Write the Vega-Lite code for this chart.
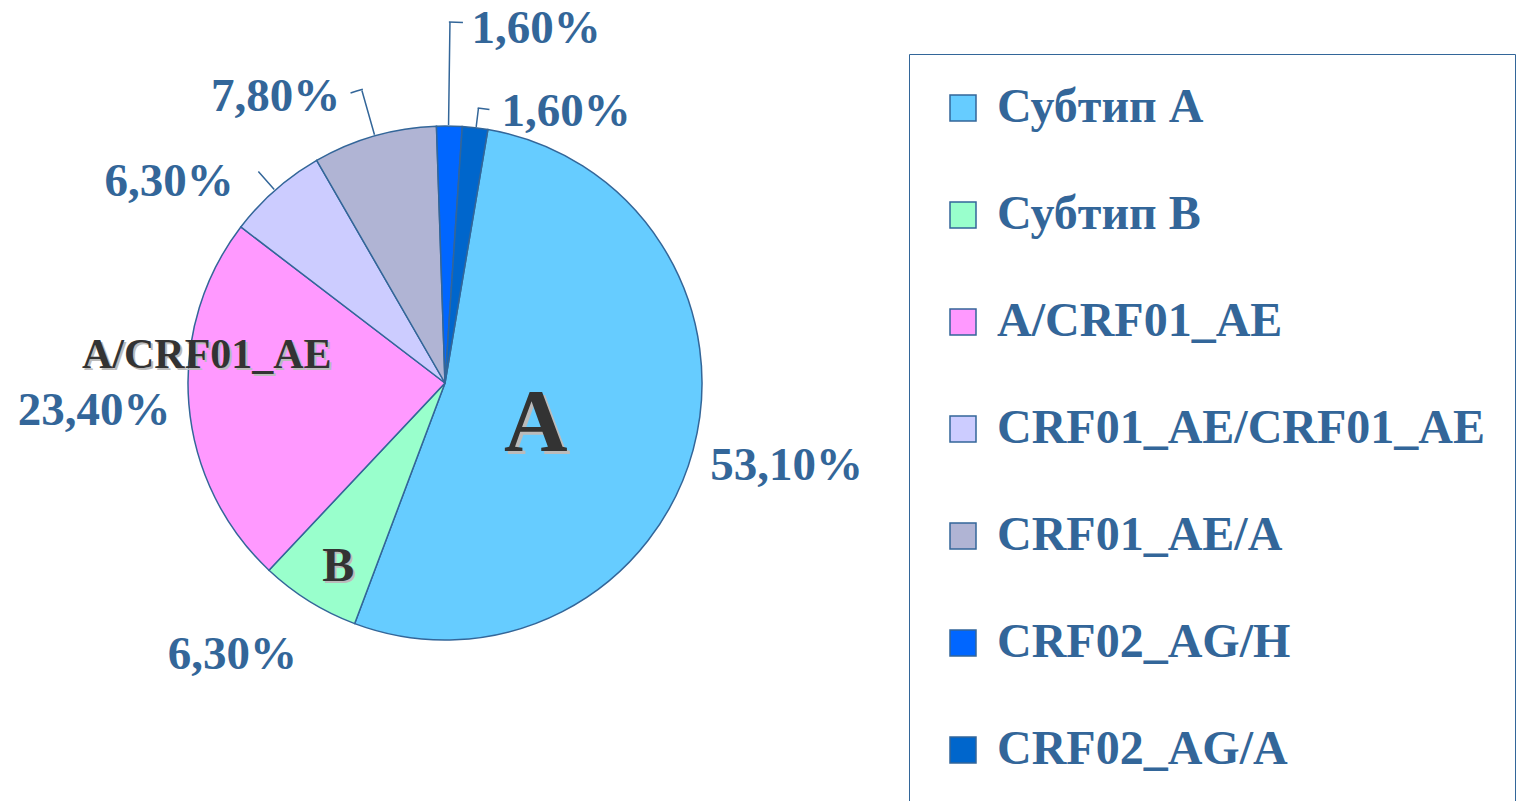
{
  "$schema": "https://vega.github.io/schema/vega-lite/v6.json",
  "width": 890,
  "height": 766,
  "autosize": {"type": "none"},
  "padding": {"left": 0, "top": 0, "right": 627, "bottom": 35},
  "background": "white",
  "config": {
    "view": {"stroke": null},
    "text": {"font": "Liberation Serif", "fontWeight": "bold", "fontSize": 47, "align": "center", "baseline": "middle"},
    "legend": {
      "orient": "none",
      "legendX": 909,
      "legendY": 54,
      "padding": 30,
      "strokeColor": "#336699",
      "symbolType": "square",
      "symbolSize": 676,
      "symbolStrokeColor": "#336699",
      "symbolStrokeWidth": 1.5,
      "symbolOpacity": 1,
      "labelFont": "Liberation Serif",
      "labelFontWeight": "bold",
      "labelFontSize": 48,
      "labelColor": "#336699",
      "labelLimit": 0,
      "labelOffset": 10,
      "rowPadding": 59
    }
  },
  "data": {
    "values": [
      {"idx": 1, "category": "Субтип А", "value": 53.1, "pct": "53,10%", "tag": "A"},
      {"idx": 2, "category": "Субтип В", "value": 6.3, "pct": "6,30%", "tag": "B"},
      {"idx": 3, "category": "A/CRF01_AE", "value": 23.4, "pct": "23,40%", "tag": "A/CRF01_AE"},
      {"idx": 4, "category": "CRF01_AE/CRF01_AE", "value": 6.3, "pct": "6,30%", "tag": ""},
      {"idx": 5, "category": "CRF01_AE/A", "value": 7.8, "pct": "7,80%", "tag": ""},
      {"idx": 6, "category": "CRF02_AG/H", "value": 1.6, "pct": "1,60%", "tag": ""},
      {"idx": 7, "category": "CRF02_AG/A", "value": 1.6, "pct": "1,60%", "tag": ""}
    ]
  },
  "encoding": {
    "theta": {"field": "value", "type": "quantitative", "stack": true, "scale": {"range": [0.1676, 6.4508]}},
    "order": {"field": "idx", "type": "quantitative"},
    "detail": {"field": "category", "type": "nominal"}
  },
  "layer": [
    {
      "mark": {"type": "arc", "radius": 257, "stroke": "#336699", "strokeWidth": 1.5},
      "encoding": {
        "color": {
          "field": "category",
          "type": "nominal",
          "title": null,
          "scale": {
            "domain": ["Субтип А", "Субтип В", "A/CRF01_AE", "CRF01_AE/CRF01_AE", "CRF01_AE/A", "CRF02_AG/H", "CRF02_AG/A"],
            "range": ["#66CCFF", "#99FFCC", "#FF99FF", "#CCCCFF", "#B0B4D4", "#0066FF", "#0066CC"]
          }
        }
      }
    },
    {
      "transform": [
        {"stack": "value", "groupby": [], "sort": [{"field": "idx", "order": "ascending"}], "as": ["v0", "v1"]},
        {"filter": "datum.idx === 6"}
      ],
      "mark": {"type": "arc", "radius": 361, "radius2": 258, "thetaOffset": 0.047, "theta2Offset": 0.047, "fill": null, "stroke": "#336699", "strokeWidth": 1.5},
      "encoding": {"theta": {"field": "v0", "type": "quantitative"}, "theta2": {"field": "v0"}}
    },
    {
      "transform": [
        {"stack": "value", "groupby": [], "sort": [{"field": "idx", "order": "ascending"}], "as": ["v0", "v1"]},
        {"filter": "datum.idx === 6"}
      ],
      "mark": {"type": "arc", "radius": 361, "radius2": 361, "thetaOffset": 0.044, "theta2Offset": 0.083, "fill": null, "stroke": "#336699", "strokeWidth": 1.5},
      "encoding": {"theta": {"field": "v0", "type": "quantitative"}, "theta2": {"field": "v0"}}
    },
    {
      "transform": [
        {"stack": "value", "groupby": [], "sort": [{"field": "idx", "order": "ascending"}], "as": ["v0", "v1"]},
        {"filter": "datum.idx === 7"}
      ],
      "mark": {"type": "arc", "radius": 277, "radius2": 258, "thetaOffset": 0.054, "theta2Offset": 0.054, "fill": null, "stroke": "#336699", "strokeWidth": 1.5},
      "encoding": {"theta": {"field": "v0", "type": "quantitative"}, "theta2": {"field": "v0"}}
    },
    {
      "transform": [
        {"stack": "value", "groupby": [], "sort": [{"field": "idx", "order": "ascending"}], "as": ["v0", "v1"]},
        {"filter": "datum.idx === 7"}
      ],
      "mark": {"type": "arc", "radius": 277, "radius2": 277, "thetaOffset": 0.051, "theta2Offset": 0.094, "fill": null, "stroke": "#336699", "strokeWidth": 1.5},
      "encoding": {"theta": {"field": "v0", "type": "quantitative"}, "theta2": {"field": "v0"}}
    },
    {
      "transform": [
        {"stack": "value", "groupby": [], "sort": [{"field": "idx", "order": "ascending"}], "as": ["v0", "v1"]},
        {"filter": "datum.idx === 5"}
      ],
      "mark": {"type": "arc", "radius": 304, "radius2": 258, "thetaOffset": 0.246, "theta2Offset": 0.246, "fill": null, "stroke": "#336699", "strokeWidth": 1.5},
      "encoding": {"theta": {"field": "v0", "type": "quantitative"}, "theta2": {"field": "v0"}}
    },
    {
      "transform": [
        {"stack": "value", "groupby": [], "sort": [{"field": "idx", "order": "ascending"}], "as": ["v0", "v1"]},
        {"filter": "datum.idx === 5"}
      ],
      "mark": {"type": "arc", "radius": 305, "radius2": 305, "thetaOffset": 0.208, "theta2Offset": 0.250, "fill": null, "stroke": "#336699", "strokeWidth": 1.5},
      "encoding": {"theta": {"field": "v0", "type": "quantitative"}, "theta2": {"field": "v0"}}
    },
    {
      "transform": [
        {"stack": "value", "groupby": [], "sort": [{"field": "idx", "order": "ascending"}], "as": ["v0", "v1"]},
        {"filter": "datum.idx === 4"}
      ],
      "mark": {"type": "arc", "radius": 282, "radius2": 258, "thetaOffset": 0.195, "theta2Offset": 0.195, "fill": null, "stroke": "#336699", "strokeWidth": 1.5},
      "encoding": {"theta": {"field": "v0", "type": "quantitative"}, "theta2": {"field": "v0"}}
    },
    {
      "mark": {"type": "text", "radius": 300, "dx": 52, "dy": 5},
      "encoding": {"text": {"condition": {"test": "datum.idx === 1", "field": "pct", "type": "nominal"}, "value": ""}, "color": {"value": "#336699"}}
    },
    {
      "mark": {"type": "text", "radius": 300, "dx": -54, "dy": 17},
      "encoding": {"text": {"condition": {"test": "datum.idx === 2", "field": "pct", "type": "nominal"}, "value": ""}, "color": {"value": "#336699"}}
    },
    {
      "mark": {"type": "text", "radius": 300, "dx": -52, "dy": 3},
      "encoding": {"text": {"condition": {"test": "datum.idx === 3", "field": "pct", "type": "nominal"}, "value": ""}, "color": {"value": "#336699"}}
    },
    {
      "mark": {"type": "text", "radius": 300, "dx": -78, "dy": 24},
      "encoding": {"text": {"condition": {"test": "datum.idx === 4", "field": "pct", "type": "nominal"}, "value": ""}, "color": {"value": "#336699"}}
    },
    {
      "mark": {"type": "text", "radius": 300, "dx": -87, "dy": 2},
      "encoding": {"text": {"condition": {"test": "datum.idx === 5", "field": "pct", "type": "nominal"}, "value": ""}, "color": {"value": "#336699"}}
    },
    {
      "mark": {"type": "text", "radius": 300, "dx": 86, "dy": -54},
      "encoding": {"text": {"condition": {"test": "datum.idx === 6", "field": "pct", "type": "nominal"}, "value": ""}, "color": {"value": "#336699"}}
    },
    {
      "mark": {"type": "text", "radius": 300, "dx": 86, "dy": 27},
      "encoding": {"text": {"condition": {"test": "datum.idx === 7", "field": "pct", "type": "nominal"}, "value": ""}, "color": {"value": "#336699"}}
    },
    {
      "mark": {"type": "text", "radius": 94, "dx": 3, "dy": 20, "fontSize": 88},
      "encoding": {"text": {"condition": {"test": "datum.idx === 1", "field": "tag", "type": "nominal"}, "value": ""}, "color": {"value": "#BBBBBB"}}
    },
    {
      "mark": {"type": "text", "radius": 94, "dx": 0, "dy": 17, "fontSize": 88},
      "encoding": {"text": {"condition": {"test": "datum.idx === 1", "field": "tag", "type": "nominal"}, "value": ""}, "color": {"value": "#333333"}}
    },
    {
      "mark": {"type": "text", "radius": 217, "dx": 10, "dy": 2, "fontSize": 48},
      "encoding": {"text": {"condition": {"test": "datum.idx === 2", "field": "tag", "type": "nominal"}, "value": ""}, "color": {"value": "#BBBBBB"}}
    },
    {
      "mark": {"type": "text", "radius": 217, "dx": 8, "dy": 0, "fontSize": 48},
      "encoding": {"text": {"condition": {"test": "datum.idx === 2", "field": "tag", "type": "nominal"}, "value": ""}, "color": {"value": "#333333"}}
    },
    {
      "mark": {"type": "text", "radius": 239, "dx": 2, "dy": -46, "fontSize": 42},
      "encoding": {"text": {"condition": {"test": "datum.idx === 3", "field": "tag", "type": "nominal"}, "value": ""}, "color": {"value": "#BBBBBB"}}
    },
    {
      "mark": {"type": "text", "radius": 239, "dx": 0, "dy": -48, "fontSize": 42},
      "encoding": {"text": {"condition": {"test": "datum.idx === 3", "field": "tag", "type": "nominal"}, "value": ""}, "color": {"value": "#333333"}}
    }
  ]
}
